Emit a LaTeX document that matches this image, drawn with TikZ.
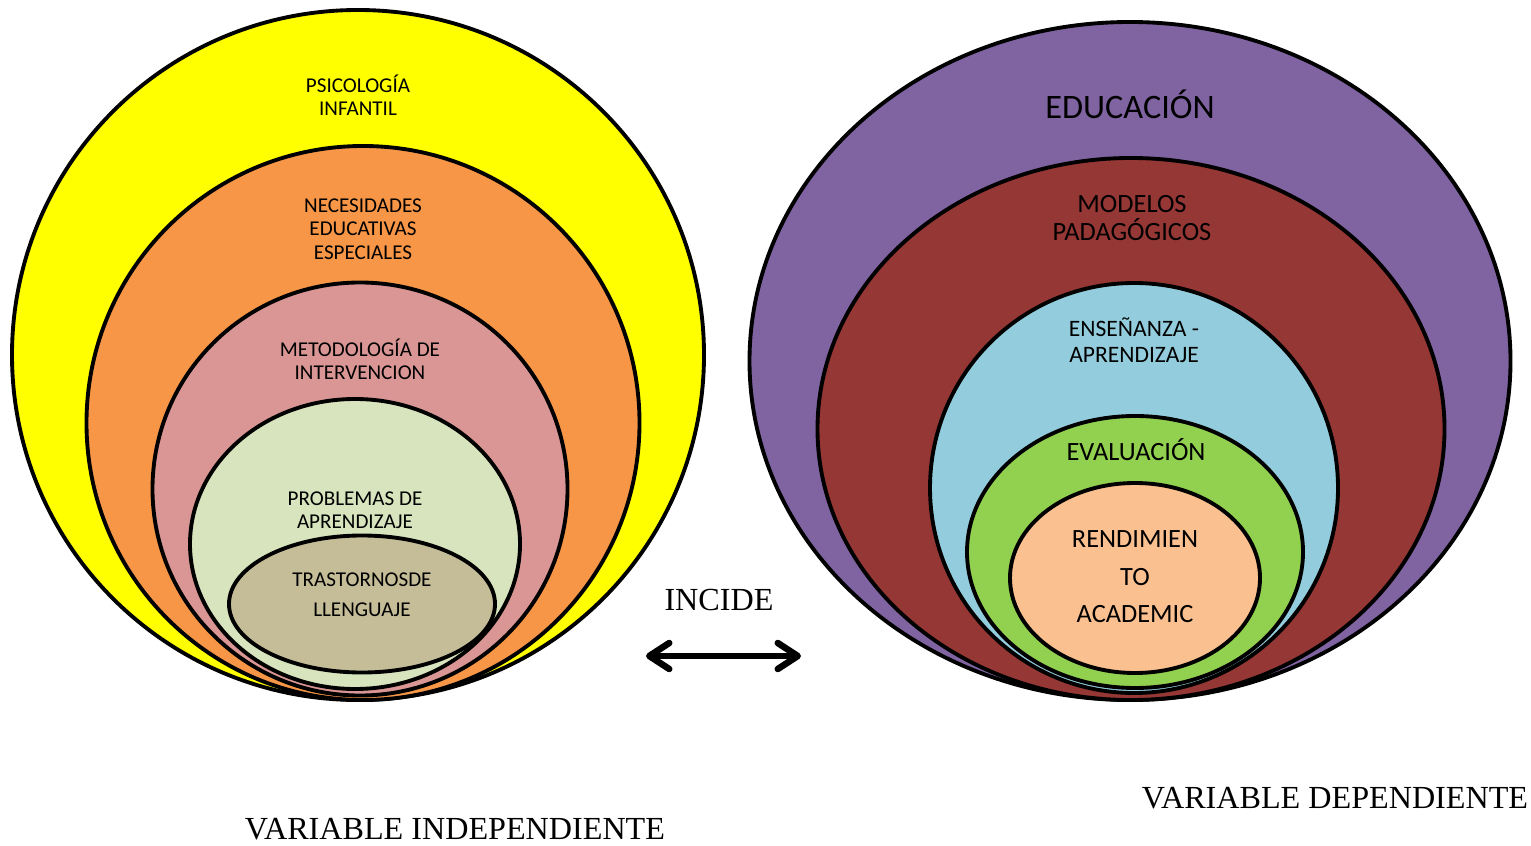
\documentclass[tikz,border=0pt]{standalone}
\usepackage{fontspec}
\setmainfont{Liberation Serif}
\newfontfamily\calibri{Carlito}
\usetikzlibrary{shapes.geometric,arrows.meta}

\definecolor{amarillo}{HTML}{FFFF00}
\definecolor{naranja}{HTML}{F79646}
\definecolor{rosa}{HTML}{D99694}
\definecolor{verdeclaro}{HTML}{D7E4BD}
\definecolor{beige}{HTML}{C4BD97}
\definecolor{morado}{HTML}{8064A2}
\definecolor{granate}{HTML}{953735}
\definecolor{celeste}{HTML}{93CDDD}
\definecolor{verde}{HTML}{92D050}
\definecolor{melocoton}{HTML}{FAC090}

\begin{document}
\begin{tikzpicture}[
      x=0.2mm, y=-0.2mm,
      capa/.style={
        draw,
        ellipse,
        line width=2.2pt,
        inner sep=0
      },
      texto/.style={
        align=center,
        inner sep=0,
        font=\calibri\fontsize{12}{13.3}\selectfont
      },
      rotulo/.style={
        inner sep=0,
        font=\fontsize{18.3}{20}\selectfont
      },
      flecha/.style={
        {Straight Barb[length=4mm,width=5.2mm,round]}-{Straight Barb[length=4mm,width=5.2mm,round]},
        line width=1.3mm,
        line cap=round
      }
    ]
    \useasboundingbox (0,0) rectangle (1531,846);

    % variable independiente
    \node[capa, fill=amarillo, minimum width=138.4mm, minimum height=138mm] (psico) at (358,355) {};
    \node[capa, fill=naranja, minimum width=110.6mm, minimum height=110.8mm] (nee) at (363,423) {};
    \node[capa, fill=rosa, minimum width=83mm, minimum height=82.6mm] (metodo) at (360,489) {};
    \node[capa, fill=verdeclaro, minimum width=66mm, minimum height=58mm] (problemas) at (355,544) {};
    \node[capa, fill=beige, minimum width=53.2mm, minimum height=27.4mm] (trastornos) at (362,604) {};

    \node[texto] (tpsico) at (358,95) {PSICOLOGÍA\\INFANTIL};
    \node[texto] (tnee) at (363,229) {NECESIDADES\\EDUCATIVAS\\ESPECIALES};
    \node[texto] (tmetodo) at (360,359) {METODOLOGÍA DE\\INTERVENCION};
    \node[texto] (tproblemas) at (355,510) {PROBLEMAS DE\\APRENDIZAJE};
    \node[texto, font=\calibri\fontsize{12}{17}\selectfont] (ttrastornos) at (362,595) {TRASTORNOSDE\\LLENGUAJE};

    % variable dependiente
    \node[capa, fill=morado, minimum width=152.2mm, minimum height=135.6mm] (educ) at (1130,361) {};
    \node[capa, fill=granate, minimum width=125.4mm, minimum height=108.4mm] (modelos) at (1131,429) {};
    \node[capa, fill=celeste, minimum width=81.6mm, minimum height=82mm] (ensenanza) at (1134,488) {};
    \node[capa, fill=verde, minimum width=67.2mm, minimum height=54.4mm] (evaluacion) at (1135,552) {};
    \node[capa, fill=melocoton, minimum width=50mm, minimum height=38mm] (rendimiento) at (1135,578) {};

    \node[texto, font=\calibri\fontsize{19.5}{22}\selectfont] (teduc) at (1130,104) {EDUCACIÓN};
    \node[texto, font=\calibri\fontsize{15}{16.4}\selectfont] (tmodelos) at (1132,218) {MODELOS\\PADAGÓGICOS};
    \node[texto, font=\calibri\fontsize{13.4}{14.7}\selectfont] (tensenanza) at (1134,340) {ENSEÑANZA -\\APRENDIZAJE};
    \node[texto, font=\calibri\fontsize{15}{17}\selectfont] (tevaluacion) at (1136,450) {EVALUACIÓN};
    \node[texto, font=\calibri\fontsize{15}{21.3}\selectfont] (trendimiento) at (1135,577) {RENDIMIEN\\TO\\ACADEMIC};

    % relacion
    \node[rotulo] (incide) at (719,600) {INCIDE};
    \coordinate (izq) at (646,656);
    \coordinate (der) at (801,656);
    \draw[flecha] (izq) -- (der);

    \node[rotulo] (vi) at (455,829) {VARIABLE INDEPENDIENTE};
    \node[rotulo] (vd) at (1335,798) {VARIABLE DEPENDIENTE};
  \end{tikzpicture}
\end{document}
